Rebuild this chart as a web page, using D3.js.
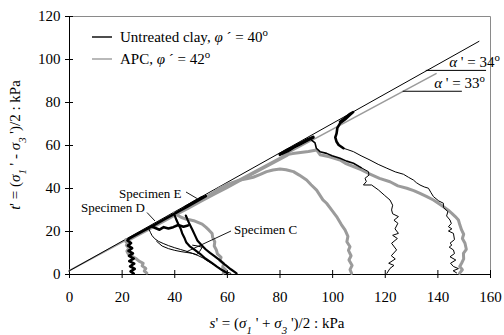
<!DOCTYPE html>
<html>
<head>
<meta charset="utf-8">
<script src="https://cdn.jsdelivr.net/npm/d3@7"></script>
<style>
  body { margin: 0; background: #fff; }
  svg { display: block; }
</style>
</head>
<body>
<svg id="chart" width="504" height="335"></svg>
<script>
// ---- axis ticks ----
const xTicks = [0, 20, 40, 60, 80, 100, 120, 140, 160];
const yTicks = [0, 20, 40, 60, 80, 100, 120];

// ---- failure envelopes [s', t'] ----
const envelopeUntreated = [[0, 1.4], [155.8, 108.2]];   // alpha' = 34
const envelopeAPC = [[0, 1.5], [139.5, 93.2]];          // alpha' = 33

// ---- stress paths, untreated clay [s', t'] ----
const untreatedE = [[24.6,0.2],[23.4,1.2],[25.0,2.4],[23.2,3.6],[24.8,4.8],[22.9,6.0],[24.6,7.2],[22.8,8.4],[24.3,9.6],[22.6,10.8],[24.0,12.0],[22.4,13.2],[23.6,14.4],[22.2,15.6],[23.0,16.6],[24.5,17.6],[27,19.2],[30,21.2],[33,23.2],[36,25.3],[39,27.3],[42,29.4],[45,31.4],[48,33.4],[50,34.8],[52,36.2],[50.5,35.6],[47,33.2],[44,31.0]];
const untreatedD1 = [[63.7,0.3],[61.5,2.2],[59.4,4.2],[57.4,6.3],[55.4,8.2],[53.6,9.8],[52.0,11.4],[50.4,13.4],[48.8,15.6],[47.8,18.2],[46.8,20.8],[45.8,23.2],[45.0,25.4],[44.4,27.2]];
const untreatedD2 = [[60.2,0.3],[58.4,1.6],[56.2,3.4],[54.0,5.4],[51.8,7.2],[49.8,9.4],[47.8,11.2],[45.8,13.0],[44.6,14.6],[43.8,17.0],[43.0,19.0],[42.4,21.2],[41.6,23.0],[40.8,25.2],[40.2,27.2]];
const untreatedD3 = [[45.2,22.6],[43.5,22.0],[41.5,22.8],[39.6,21.8],[37.8,21.2],[36.0,21.8],[34.4,20.6],[32.8,21.4],[31.4,22.2]];
const untreatedC = [[61.5,0.3],[59.5,1.2],[57.4,2.6],[55.2,4.2],[53.0,5.8],[51.0,7.4],[49.0,8.6],[46.8,9.6],[44.6,10.6],[42.4,11.4],[40.2,12.2],[37.8,13.2],[35.8,14.2],[34.0,15.2],[32.6,16.4],[31.6,17.8],[31.0,19.2],[30.4,20.8]];
const untreatedCLoop = [[33.3,15.2],[35.4,13.0],[37.8,11.8],[40.2,11.0],[42.6,10.4],[44.8,10.0],[47.0,9.6],[48.6,9.0],[49.6,10.4],[50.6,12.4],[49.0,13.0],[47.0,13.4]];
const untreatedP = [[120.8,0.3],[122.0,2.6],[123.5,4.0],[121.5,5.0],[124.0,7.0],[122.5,8.5],[124.5,11.2],[122.6,14.3],[124.8,16.5],[123.0,18.0],[125.2,18.9],[123.9,21.0],[125.0,23.6],[123.5,25.0],[125.2,26.7],[123.0,28.0],[122.6,29.8],[123.0,32.0],[122.0,34.4],[120.0,36.5],[117.6,39.1],[115.0,41.4],[111.9,41.4],[113.0,43.0],[112.5,44.5],[114.0,46.0],[113.8,47.6],[111.0,49.5]];
const untreatedPUpper = [[111.0,49.5],[108.1,51.5],[105.5,52.5],[103.0,53.8],[100.0,55.0],[97.9,56.1],[95.4,56.9],[94.0,58.5],[93.5,61.0],[92.2,62.3]];
const untreatedPEnd = [[80.2,55.6],[83,57.6],[85,58.8],[87,60.2],[89,61.4],[91,62.7],[92.8,63.6],[90.5,62.2],[88,60.6],[85.5,59.0],[83,57.2],[80.8,56.0]];
const untreatedQ = [[147.3,0.5],[146.0,1.5],[148.0,2.5],[146.1,3.5],[145.0,5.0],[147.0,6.5],[144.8,8.0],[146.5,9.5],[146.1,11.2],[144.5,12.5],[145.5,13.5],[144.8,14.3],[146.5,16.0],[146.1,18.9],[144.2,20.0],[145.5,21.0],[144.2,22.0],[145.3,23.5],[144.8,25.1],[143.5,27.0],[144.0,29.0],[142.3,31.0],[142.3,32.9],[140.5,34.0],[138.5,36.0],[137.5,38.0],[136.6,39.9],[135.0,40.5],[133.4,41.4],[132.0,42.5],[130.9,43.7],[129.0,45.0],[127.1,46.4],[124.0,47.5],[120.8,49.2],[117.5,51.0],[114.4,53.0],[111.0,55.0],[108.1,56.9],[106.0,57.8],[104.3,58.5]];
const untreatedQEnd = [[104.3,58.5],[102.5,60.0],[101.7,61.5],[101.2,63.5],[101.7,65.4],[102.0,68.0],[103.0,70.1],[105.0,72.0],[106.8,74.0],[108.0,75.3],[106.5,74.2],[104.5,72.2],[103.0,70.8]];

// ---- stress paths, APC [s', t'] ----
const apcLow = [[29.6,0.4],[28.6,1.4],[29.2,2.6],[27.8,3.8],[28.2,5.0],[26.6,6.0],[25.4,7.2],[24.0,8.2],[22.6,9.2],[22.0,10.6],[22.8,12.0],[21.8,13.4],[22.4,14.8],[21.6,16.0]];
const apcC = [[58.6,0.4],[59.6,1.8],[58.4,3.2],[58.8,4.8],[57.4,6.2],[57.8,7.8],[56.4,9.4],[56.0,11.2],[55.2,13.0],[55.4,15.0],[54.6,17.0],[54.4,18.8],[53.2,20.4],[52.0,21.8],[50.6,23.2],[49.0,24.0],[47.4,24.8],[45.8,25.2],[44.2,25.6],[42.6,26.4],[41.0,27.6],[40.0,28.4]];
const apcEnvelopeBand = [[21.6,15.0],[25,17.4],[30,20.6],[35,23.9],[40,27.2],[45,30.4],[50,33.8],[55,37.0],[60,40.2],[65,43.5],[70,46.8],[75,50.0],[80,53.3],[83,55.3]];
const apcA = [[107.4,0.3],[106.8,2.0],[107.6,4.0],[106.4,6.5],[107.2,8.5],[106.2,11.0],[106.8,12.7],[105.6,15.0],[106.0,17.5],[104.9,20.5],[103.5,23.0],[101.7,26.7],[100.0,29.5],[97.9,32.9],[96.5,34.5],[94.1,39.0],[92.0,41.5],[90.3,43.7],[87.5,46.0],[85.3,47.6],[82.5,48.5],[80.2,48.8],[77.5,48.4],[75.1,47.6],[72.5,46.2],[70.0,45.0],[67.5,44.3],[65.0,43.7],[62.0,42.5],[60.0,41.6],[57.4,40.0],[55.0,38.0],[52.3,36.0]];
const apcB = [[148.4,0.3],[149.5,2.0],[148.5,3.5],[149.2,5.0],[150.0,7.0],[149.9,9.6],[151.0,11.5],[150.5,14.3],[149.5,16.5],[150.0,18.5],[149.2,20.5],[148.5,23.0],[148.0,25.1],[146.8,26.7],[145.5,28.2],[144.0,29.8],[142.3,31.3],[140.5,32.8],[138.5,34.4],[136.0,36.0],[133.4,37.5],[131.0,38.8],[128.4,39.9],[125.0,41.0],[122.0,42.9],[118.0,44.5],[114.4,46.5],[111.0,48.5],[108.1,50.0],[105.0,51.5],[103.0,53.0],[99.0,54.5],[95.4,55.5],[94.1,57.7],[91.0,57.0],[88.0,56.5],[85.0,56.0],[81.5,55.2]];

// ---- layout ----
const SERIF = "'Liberation Serif', 'Times New Roman', serif";
const svg = d3.select("#chart").attr("font-family", SERIF);
const x = d3.scaleLinear().domain([0, 160]).range([69, 490]);
const y = d3.scaleLinear().domain([0, 120]).range([274, 16]);
const BLACK = "#000", GREY = "#9b9b9b";
const FONT = 15;

// plot-area border (top & right)
svg.append("path")
  .attr("d", `M${x(0)},${y(120) + 0.5}H${x(160) + 0.5}V${y(0)}`)
  .attr("fill", "none").attr("stroke", "#8a8a8a").attr("stroke-width", 1);

// axes
const gx = svg.append("g")
  .attr("transform", `translate(0,${y(0)})`)
  .call(d3.axisBottom(x).tickValues(xTicks).tickSizeInner(4).tickSizeOuter(0).tickPadding(13).tickFormat(d3.format("d")));
const gy = svg.append("g")
  .attr("transform", `translate(${x(0)},0)`)
  .call(d3.axisLeft(y).tickValues(yTicks).tickSizeInner(4).tickSizeOuter(0).tickPadding(4.5).tickFormat(d3.format("d")));
[gx, gy].forEach(g => {
  g.attr("font-family", SERIF).attr("font-size", FONT);
  g.selectAll("text").attr("font-family", SERIF).attr("fill", BLACK);
  g.select(".domain").attr("stroke", BLACK);
  g.selectAll(".tick line").attr("stroke", BLACK);
});
gx.selectAll(".tick line").attr("y1", -4).attr("y2", 4);
gy.selectAll(".tick line").attr("x1", -4).attr("x2", 4);

const line = d3.line().x(d => x(d[0])).y(d => y(d[1]));

function drawPath(data, color, width) {
  svg.append("path").datum(data)
    .attr("d", line)
    .attr("fill", "none")
    .attr("stroke", color)
    .attr("stroke-width", width)
    .attr("stroke-linejoin", "round")
    .attr("stroke-linecap", "round");
}

// failure envelopes
drawPath(envelopeAPC, GREY, 1.5);
drawPath(envelopeUntreated, BLACK, 1);

// APC stress paths (grey)
drawPath(apcEnvelopeBand, GREY, 3);
drawPath(apcLow, GREY, 3);
drawPath(apcC, GREY, 3);
drawPath(apcA, GREY, 3);
drawPath(apcB, GREY, 3);

// untreated clay stress paths (black)
drawPath(untreatedE, BLACK, 2.6);
drawPath(untreatedD1, BLACK, 2.2);
drawPath(untreatedD2, BLACK, 2.2);
drawPath(untreatedD3, BLACK, 2.6);
drawPath(untreatedC, BLACK, 1);
drawPath(untreatedCLoop, BLACK, 1);
drawPath(untreatedP, BLACK, 1);
drawPath(untreatedPUpper, BLACK, 1.6);
drawPath(untreatedPEnd, BLACK, 3.2);
drawPath(untreatedQ, BLACK, 1);
drawPath(untreatedQEnd, BLACK, 2.6);

// rich text helper: parts = [{t, i (italic), sub, sup}]
function richText(parent, parts, attrs, size) {
  const t = parent.append("text")
    .attr("font-family", SERIF).attr("font-size", size).attr("fill", BLACK);
  Object.entries(attrs).forEach(([k, v]) => t.attr(k, v));
  parts.forEach(p => {
    const s = t.append("tspan").text(p.t);
    if (p.i) s.attr("font-style", "italic");
    if (p.sub) s.attr("baseline-shift", "sub").attr("font-size", size * 0.72);
    if (p.sup) s.attr("baseline-shift", "super").attr("font-size", size * 0.72);
  });
  return t;
}

// legend
const legend = [
  { color: BLACK, parts: [{ t: "Untreated clay, " }, { t: "φ", i: true }, { t: " ´ = 40" }, { t: "o", sup: true }], yPx: 37 },
  { color: GREY, parts: [{ t: "APC, " }, { t: "φ", i: true }, { t: " ´ = 42" }, { t: "o", sup: true }], yPx: 59 }
];
legend.forEach(l => {
  svg.append("line").attr("x1", 92).attr("x2", 112).attr("y1", l.yPx).attr("y2", l.yPx)
    .attr("stroke", l.color).attr("stroke-width", 1.4);
  richText(svg, l.parts, { x: 120, y: l.yPx + 5 }, FONT);
});

// envelope slope labels
function slopeLabel(sFrom, sTo, tLevel, label, textX) {
  svg.append("line")
    .attr("x1", x(sFrom)).attr("x2", x(sTo))
    .attr("y1", y(tLevel)).attr("y2", y(tLevel))
    .attr("stroke", BLACK).attr("stroke-width", 1);
  richText(svg, [{ t: "α", i: true }, { t: " ' = " + label }, { t: "o", sup: true }],
    { x: x(textX), y: y(tLevel) - 3.5 }, FONT);
}
slopeLabel(135.6, 158.5, 94.7, "34", 144.5);
slopeLabel(126.8, 149.3, 85.0, "33", 138.8);

// specimen labels with leaders
const specimens = [
  { name: "Specimen E", tx: 119, ty: 198, from: [186, 192], to: [197, 198.5] },
  { name: "Specimen D", tx: 81, ty: 212, from: [147, 212.5], to: [155, 221] },
  { name: "Specimen C", tx: 234, ty: 234, from: [231, 231], to: [186, 252] }
];
specimens.forEach(s => {
  svg.append("text").attr("x", s.tx).attr("y", s.ty)
    .attr("font-family", SERIF).attr("font-size", 13).attr("fill", BLACK).text(s.name);
  svg.append("line").attr("x1", s.from[0]).attr("y1", s.from[1]).attr("x2", s.to[0]).attr("y2", s.to[1])
    .attr("stroke", BLACK).attr("stroke-width", 0.9);
});

// axis titles
richText(svg,
  [{ t: "s", i: true }, { t: "' = (" }, { t: "σ", i: true }, { t: "1", i: true, sub: true }, { t: " ' + " },
   { t: "σ", i: true }, { t: "3", i: true, sub: true }, { t: " ')/2 : kPa" }],
  { x: 277, y: 328, "text-anchor": "middle" }, FONT);

richText(svg,
  [{ t: "t", i: true }, { t: "' = (" }, { t: "σ", i: true }, { t: "1", i: true, sub: true }, { t: " ' - " },
   { t: "σ", i: true }, { t: "3", i: true, sub: true }, { t: " ')/2 : kPa" }],
  { transform: "translate(20,145) rotate(-90)", "text-anchor": "middle" }, FONT);
</script>
</body>
</html>
